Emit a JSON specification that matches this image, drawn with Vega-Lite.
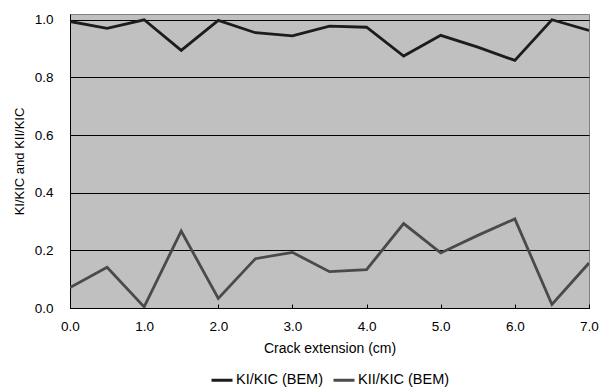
{
  "$schema": "https://vega.github.io/schema/vega-lite/v6.json",
  "width": 519,
  "height": 294,
  "autosize": "none",
  "padding": {"left": 70, "top": 14, "right": 10, "bottom": 79},
  "background": "white",
  "config": {
    "font": "Liberation Sans",
    "view": {"fill": "#c0c0c0", "stroke": "#808080", "strokeWidth": 1}
  },
  "data": {
    "values": [
      {"x": 0.0, "series": "KI/KIC (BEM)", "value": 0.994},
      {"x": 0.5, "series": "KI/KIC (BEM)", "value": 0.970},
      {"x": 1.0, "series": "KI/KIC (BEM)", "value": 1.000},
      {"x": 1.5, "series": "KI/KIC (BEM)", "value": 0.894},
      {"x": 2.0, "series": "KI/KIC (BEM)", "value": 0.998},
      {"x": 2.5, "series": "KI/KIC (BEM)", "value": 0.955},
      {"x": 3.0, "series": "KI/KIC (BEM)", "value": 0.944},
      {"x": 3.5, "series": "KI/KIC (BEM)", "value": 0.978},
      {"x": 4.0, "series": "KI/KIC (BEM)", "value": 0.974},
      {"x": 4.5, "series": "KI/KIC (BEM)", "value": 0.874},
      {"x": 5.0, "series": "KI/KIC (BEM)", "value": 0.946},
      {"x": 5.5, "series": "KI/KIC (BEM)", "value": 0.905},
      {"x": 6.0, "series": "KI/KIC (BEM)", "value": 0.859},
      {"x": 6.5, "series": "KI/KIC (BEM)", "value": 1.000},
      {"x": 7.0, "series": "KI/KIC (BEM)", "value": 0.963},
      {"x": 0.0, "series": "KII/KIC (BEM)", "value": 0.071},
      {"x": 0.5, "series": "KII/KIC (BEM)", "value": 0.141},
      {"x": 1.0, "series": "KII/KIC (BEM)", "value": 0.004},
      {"x": 1.5, "series": "KII/KIC (BEM)", "value": 0.267},
      {"x": 2.0, "series": "KII/KIC (BEM)", "value": 0.033},
      {"x": 2.5, "series": "KII/KIC (BEM)", "value": 0.171},
      {"x": 3.0, "series": "KII/KIC (BEM)", "value": 0.193},
      {"x": 3.5, "series": "KII/KIC (BEM)", "value": 0.126},
      {"x": 4.0, "series": "KII/KIC (BEM)", "value": 0.133},
      {"x": 4.5, "series": "KII/KIC (BEM)", "value": 0.293},
      {"x": 5.0, "series": "KII/KIC (BEM)", "value": 0.191},
      {"x": 5.5, "series": "KII/KIC (BEM)", "value": 0.252},
      {"x": 6.0, "series": "KII/KIC (BEM)", "value": 0.309},
      {"x": 6.5, "series": "KII/KIC (BEM)", "value": 0.012},
      {"x": 7.0, "series": "KII/KIC (BEM)", "value": 0.156}
    ]
  },
  "mark": {"type": "line", "strokeWidth": 2.8, "clip": true},
  "encoding": {
    "x": {
      "field": "x",
      "type": "quantitative",
      "scale": {"domain": [0, 7], "nice": false, "zero": false},
      "axis": {
        "title": "Crack extension (cm)",
        "values": [0, 1, 2, 3, 4, 5, 6, 7],
        "format": ".1f",
        "grid": false,
        "domainColor": "black",
        "domainWidth": 1,
        "tickColor": "black",
        "tickSize": -4,
        "labelFlush": false,
        "labelPadding": 15,
        "labelFontSize": 13.5,
        "labelColor": "black",
        "titleFontSize": 14,
        "titleFontWeight": "normal",
        "titleColor": "black",
        "titlePadding": 9
      }
    },
    "y": {
      "field": "value",
      "type": "quantitative",
      "scale": {"domain": [0, 1.02], "nice": false},
      "axis": {
        "title": "KI/KIC and KII/KIC",
        "values": [0, 0.2, 0.4, 0.6, 0.8, 1.0],
        "format": ".1f",
        "grid": true,
        "gridColor": "black",
        "gridWidth": 1,
        "gridOpacity": 1,
        "ticks": false,
        "domainColor": "black",
        "domainWidth": 1,
        "labelPadding": 17,
        "labelFontSize": 13.5,
        "labelColor": "black",
        "titleFontSize": 13,
        "titleFontWeight": "normal",
        "titleColor": "black",
        "titlePadding": 8
      }
    },
    "color": {
      "field": "series",
      "type": "nominal",
      "scale": {"domain": ["KI/KIC (BEM)", "KII/KIC (BEM)"], "range": ["#1c1c1c", "#4a4a4a"]},
      "legend": {
        "title": null,
        "orient": "none",
        "legendX": 140,
        "legendY": 354,
        "direction": "horizontal",
        "symbolType": "stroke",
        "symbolSize": 441,
        "symbolStrokeWidth": 3,
        "labelFontSize": 14.5,
        "labelColor": "black",
        "labelOffset": 2,
        "columnPadding": 3
      }
    }
  }
}
